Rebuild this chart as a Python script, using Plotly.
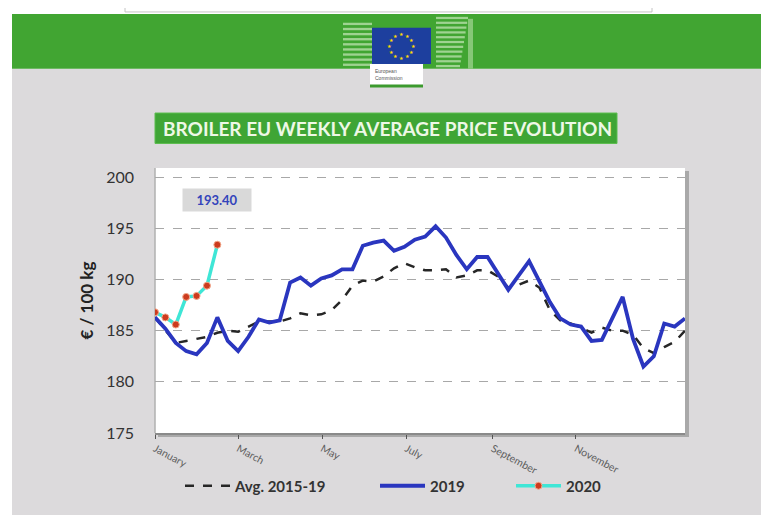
import plotly.graph_objects as go
import math

# ---------------- data ----------------
weeks = list(range(1, 53))
avg_2015_19 = [186.3, 185.0, 183.8, 184.0, 184.2, 184.4, 184.8, 185.0, 184.9, 185.4,
               185.9, 185.9, 185.9, 186.2, 186.7, 186.5, 186.6, 187.0, 188.0, 189.4,
               189.9, 189.8, 190.3, 191.1, 191.6, 191.2, 190.9, 190.9, 191.0, 190.2,
               190.4, 190.9, 190.9, 190.3, 189.2, 189.5, 189.9, 189.2, 187.0, 186.0,
               185.7, 185.3, 184.8, 185.3, 185.0, 185.0, 184.6, 183.3, 182.8, 183.4,
               183.9, 185.0]
y2019 = [186.3, 185.2, 183.8, 183.0, 182.7, 183.8, 186.3, 184.0, 183.0, 184.4,
         186.1, 185.8, 186.0, 189.7, 190.2, 189.4, 190.1, 190.4, 191.0, 191.0,
         193.3, 193.6, 193.8, 192.8, 193.2, 193.9, 194.2, 195.2, 194.1, 192.4,
         191.0, 192.2, 192.2, 190.6, 189.0, 190.4, 191.8, 189.8, 187.8, 186.2,
         185.6, 185.4, 184.0, 184.1, 186.2, 188.3, 184.2, 181.5, 182.5, 185.7,
         185.4, 186.2]
weeks_2020 = [1, 2, 3, 4, 5, 6, 7]
y2020 = [186.8, 186.3, 185.6, 188.3, 188.4, 189.4, 193.4]

month_labels = ["January", "March", "May", "July", "September", "November"]
month_weeks = [1, 9, 17.1, 25.2, 33.5, 41.5]
y_ticks = [175, 180, 185, 190, 195, 200]

title_text = "BROILER EU WEEKLY AVERAGE PRICE EVOLUTION"
y_title = "€ / 100 kg"

# ---------------- geometry helpers (decoration only) ----------------
OFF = 8                      # page body margin
W, H = 769 - OFF, 515 - OFF
L, R, T, B = 155, 685, 168, 438   # plot area in page pixels


def px(x):
    return (x - L) / (R - L)


def py(y):
    return (B - y) / (B - T)


def rect(x0, y0, x1, y1, fill, line=None, lw=0, layer="below"):
    return dict(type="rect", xref="paper", yref="paper",
                x0=px(x0), x1=px(x1), y0=py(y1), y1=py(y0),
                fillcolor=fill, line=dict(color=line or fill, width=lw), layer=layer)


shapes = []
# page background pieces
shapes.append(rect(12, 67, 780, 530, "#dcdadc"))
shapes.append(rect(12, 11, 780, 67, "#41a532"))
shapes.append(rect(125, 0, 652, 9, "#ffffff", "#c4c4c4", 1))
# building stripes (logo backdrop)
for i in range(9):
    yy = 20 + i * 5.2
    shapes.append(rect(343, yy, 372, yy + 2.4, "#9fd391"))
for i in range(11):
    yy = 14 + i * 4.9
    shapes.append(rect(436, yy, 468 - i * 0.8, yy + 2.3, "#9fd391"))
shapes.append(rect(468, 16, 473, 67, "#86c777"))
# EU flag & label box
shapes.append(rect(372, 25, 431, 62, "#1d3f9e"))
shapes.append(rect(370, 62, 423, 84, "#ffffff"))
shapes.append(rect(370, 83, 423, 86, "#3c9a2e"))
# title box
shapes.append(rect(155, 112, 617, 143, "#3fa535", "#5bbd4e", 1))
# plot frame shadow + white plot area
shapes.append(rect(158, 171, 689, 442, "#a9a9a9"))
shapes.append(rect(155, 168, 685, 438, "#ffffff"))
shapes.append(dict(type="line", xref="paper", yref="paper", x0=0, x1=0, y0=0, y1=1,
                   line=dict(color="#b0b0b0", width=1.5), layer="below"))

annotations = []
# EU stars
for k in range(12):
    a = 2 * math.pi * k / 12
    annotations.append(dict(xref="paper", yref="paper", xanchor="center", yanchor="middle",
                            x=px(401.5 + 12 * math.cos(a)), y=py(43.5 + 12 * math.sin(a)),
                            text="★", showarrow=False, font=dict(size=5, color="#ffdd00")))
annotations.append(dict(xref="paper", yref="paper", x=px(373), y=py(73),
                        xanchor="left", yanchor="middle",
                        text="European<br>Commission", showarrow=False, align="left",
                        font=dict(size=5, color="#555555", family="Liberation Sans")))
# title
annotations.append(dict(xref="paper", yref="paper", x=px(387), y=py(128),
                        xanchor="center", yanchor="middle",
                        text="<b>" + title_text + "</b>", showarrow=False,
                        font=dict(size=19, color="#eef8e6", family="Lato")))
# value box for last 2020 value
annotations.append(dict(xref="paper", yref="paper", x=px(217), y=py(201),
                        xanchor="center", yanchor="middle",
                        text=f"<b>{y2020[-1]:.2f}</b>", showarrow=False,
                        bgcolor="#d9d9d9", width=66, height=20,
                        font=dict(size=13, color="#3344bb", family="Lato")))

fig = go.Figure()
fig.add_trace(go.Scatter(x=weeks, y=avg_2015_19, mode="lines", name="Avg. 2015-19",
                         line=dict(color="#262626", width=2.5, dash="dash"),
                         legend="legend", showlegend=True))
fig.add_trace(go.Scatter(x=weeks, y=y2019, mode="lines", name="2019",
                         line=dict(color="#2a36bf", width=3.8),
                         legend="legend2", showlegend=True))
fig.add_trace(go.Scatter(x=weeks_2020, y=y2020, mode="lines+markers", name="2020",
                         line=dict(color="#3fe6d6", width=3.5),
                         marker=dict(color="#cc3b1e", size=7,
                                     line=dict(color="#f3a88a", width=1)),
                         legend="legend3", showlegend=True))

leg_font = dict(size=15, color="#333333", family="Lato", weight="bold")
common_leg = dict(orientation="h", yanchor="middle", xanchor="left",
                  bgcolor="rgba(0,0,0,0)", font=leg_font, itemwidth=45,
                  borderwidth=0, visible=True)

fig.update_layout(
    width=W, height=H,
    template="none",
    showlegend=True,
    margin=dict(l=L - OFF, r=W + OFF - R, t=T - OFF, b=H + OFF - B, pad=0),
    paper_bgcolor="#ffffff",
    plot_bgcolor="rgba(0,0,0,0)",
    shapes=shapes,
    annotations=annotations,
    legend=dict(x=px(180), y=py(492), **common_leg),
    legend2=dict(x=px(375), y=py(492), **common_leg),
    legend3=dict(x=px(511), y=py(492), **common_leg),
    xaxis=dict(range=[1, 52], tickvals=month_weeks, ticktext=month_labels,
               tickangle=28, ticks="outside", ticklen=4, tickcolor="#555555",
               tickfont=dict(size=10.5, color="#5e5e5e", family="Lato"),
               showgrid=False, zeroline=False, showline=True,
               linecolor="#8a8a8a", linewidth=1.5, automargin=False),
    yaxis=dict(range=[175, 200.9], tickvals=y_ticks, ticks="",
               ticklabelstandoff=20,
               tickfont=dict(size=16, color="#333333", family="Lato"),
               showgrid=True, gridcolor="#a8a8a8", griddash="dash", gridwidth=1,
               zeroline=False, showline=False, automargin=False,
               title=dict(text="<b>" + y_title + "</b>", standoff=8,
                          font=dict(size=17, color="#222222", family="Lato"))),
)

fig.write_html("out.html")
